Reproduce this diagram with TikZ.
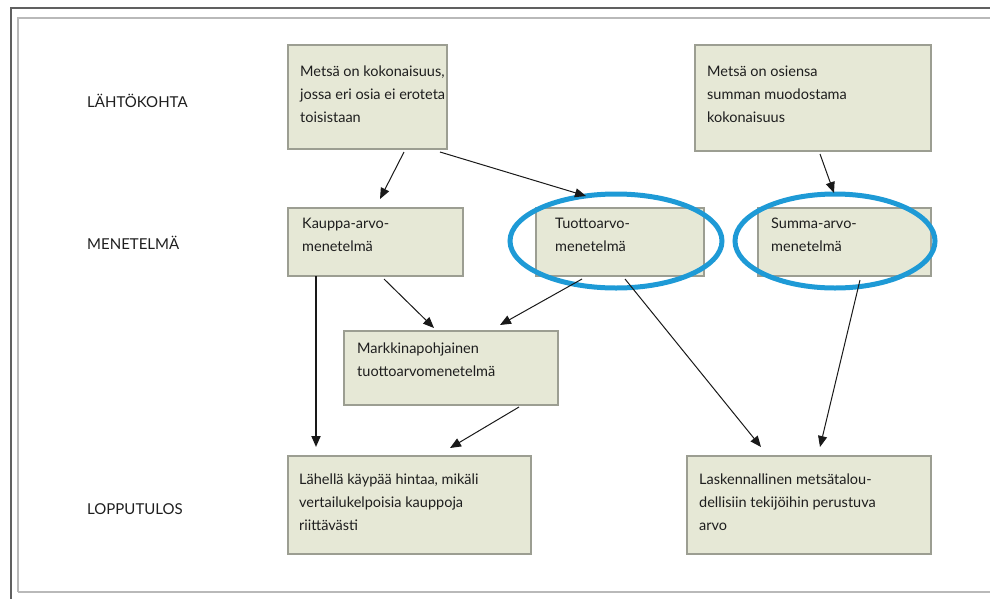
\documentclass[tikz,border=0pt]{standalone}
\usepackage{fontspec}
\setmainfont{Lato}
\usetikzlibrary{arrows.meta,shapes.geometric}
\definecolor{boxfill}{HTML}{E6E8D6}
\definecolor{boxline}{HTML}{9C9E92}
\definecolor{ovalblue}{HTML}{1E9AD6}
\definecolor{txt}{HTML}{1E1E1E}
\tikzset{
  box/.style={draw=boxline, line width=2pt, fill=boxfill, inner sep=0pt},
  boxtext/.style={anchor=north west, align=left, text=txt, inner sep=0pt,
    font=\fontsize{14.5}{23}\selectfont},
  rowlabel/.style={anchor=west, text=txt, inner sep=0pt, font=\fontsize{15}{18}\selectfont},
  conn/.style={-{Triangle[length=11pt,width=9pt]}, line width=1pt, black!90},
  oval/.style={draw=ovalblue, line width=5pt, ellipse},
}
\begin{document}
\begin{tikzpicture}[x=1pt,y=-1pt]
\useasboundingbox (0,0) rectangle (990,598);
% frame
\draw[gray!75!black, line width=1.6pt] (11,620) -- (11,8) -- (1000,8);
\draw[gray!55, line width=1.6pt] (18,592) -- (18,18) -- (1000,18);
\draw[gray!55, line width=1.6pt] (18,592) -- (1000,592);

% boxes
\node[box, minimum width=159pt, minimum height=104pt, anchor=north west] (A) at (287,44) {};
\node[box, minimum width=236pt, minimum height=106pt, anchor=north west] (B) at (694,44) {};
\node[box, minimum width=175pt, minimum height=68pt, anchor=north west] (C) at (287,207) {};
\node[box, minimum width=168pt, minimum height=68pt, anchor=north west] (D) at (535,207) {};
\node[box, minimum width=173pt, minimum height=68pt, anchor=north west] (E) at (757,207) {};
\node[box, minimum width=214pt, minimum height=74pt, anchor=north west] (F) at (343,330) {};
\node[box, minimum width=243pt, minimum height=98pt, anchor=north west] (G) at (287,455) {};
\node[box, minimum width=244pt, minimum height=98pt, anchor=north west] (H) at (686,455) {};

% texts
\node[boxtext] (tA) at (300,66) {Metsä on kokonaisuus,\\jossa eri osia ei eroteta\\toisistaan};
\node[boxtext] (tB) at (707,66) {Metsä on osiensa\\summan muodostama\\kokonaisuus};
\node[boxtext] (tC) at (302,218) {Kauppa-arvo-\\menetelmä};
\node[boxtext] (tD) at (555,218) {Tuottoarvo-\\menetelmä};
\node[boxtext] (tE) at (771,218) {Summa-arvo-\\menetelmä};
\node[boxtext] (tF) at (357,343) {Markkinapohjainen\\tuottoarvomenetelmä};
\node[boxtext] (tG) at (299,474) {Lähellä käypää hintaa, mikäli\\vertailukelpoisia kauppoja\\riittävästi};
\node[boxtext] (tH) at (699,474) {Laskennallinen metsätalou-\\dellisiin tekijöihin perustuva\\arvo};

% row labels
\node[rowlabel] (L1) at (87,101) {LÄHTÖKOHTA};
\node[rowlabel] (L2) at (87,243) {MENETELMÄ};
\node[rowlabel] (L3) at (87,509) {LOPPUTULOS};

% ovals
\node[oval, minimum width=212pt, minimum height=94pt] (oD) at (616,241) {};
\node[oval, minimum width=200pt, minimum height=94pt] (oE) at (835,241) {};

% connectors
\coordinate (a1) at (404,152);
\coordinate (c1) at (380,199);
\coordinate (a2) at (440,152);
\coordinate (d1) at (586,196);
\coordinate (b1) at (820,154);
\coordinate (e1) at (834,193);
\coordinate (c2) at (316,276);
\coordinate (g1) at (316,447);
\coordinate (c3) at (384,279);
\coordinate (f1) at (434,328);
\coordinate (d2) at (582,279);
\coordinate (f2) at (500,325);
\coordinate (d3) at (625,279);
\coordinate (h1) at (761,447);
\coordinate (e2) at (860,280);
\coordinate (h2) at (820,447);
\coordinate (f3) at (519,407);
\coordinate (g2) at (450,448);
\draw[conn] (a1) -- (c1);
\draw[conn] (a2) -- (d1);
\draw[conn] (b1) -- (e1);
\draw[conn, line width=1.8pt] (c2) -- (g1);
\draw[conn] (c3) -- (f1);
\draw[conn] (d2) -- (f2);
\draw[conn] (d3) -- (h1);
\draw[conn] (e2) -- (h2);
\draw[conn] (f3) -- (g2);
\end{tikzpicture}
\end{document}
